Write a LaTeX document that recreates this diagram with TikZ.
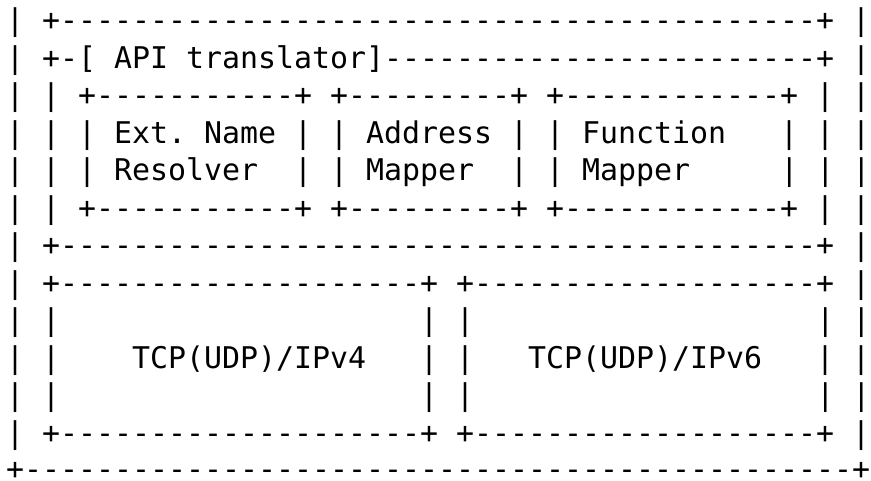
\documentclass[tikz,border=0pt]{standalone}
\usepackage{fontspec}
\newfontfamily\asciifont{DejaVu Sans Mono}

% runs of dashes and blanks, one column each
\newcommand\dashrun[1]{\foreach \k in {1,...,#1}{-}}
\newcommand\gaprun[1]{\foreach \k in {1,...,#1}{~}}

\begin{document}
\begin{tikzpicture}[x=1pt, y=1pt,
    asciirow/.style={anchor=base west, inner sep=0pt,
      font=\asciifont\fontsize{29.9}{37.5}\selectfont}]

  \useasboundingbox (0,0) rectangle (871,-480);

  % left edge of the first column
  \def\cx{6}

  % API translator block
  \node[asciirow] (row1)  at (\cx,-30.5)  {|~+\dashrun{42}+~|};
  \node[asciirow] (row2)  at (\cx,-68)    {|~+-[~API~translator]\dashrun{24}+~|};
  \node[asciirow] (row3)  at (\cx,-105.5) {|~|~+\dashrun{11}+~+\dashrun{9}+~+\dashrun{12}+~|~|};
  \node[asciirow] (row4)  at (\cx,-143)   {|~|~|~Ext.~Name~|~|~Address~|~|~Function\gaprun{3}|~|~|};
  \node[asciirow] (row5)  at (\cx,-180.5) {|~|~|~Resolver\gaprun{2}|~|~Mapper\gaprun{2}|~|~Mapper\gaprun{5}|~|~|};
  \node[asciirow] (row6)  at (\cx,-218)   {|~|~+\dashrun{11}+~+\dashrun{9}+~+\dashrun{12}+~|~|};
  \node[asciirow] (row7)  at (\cx,-255.5) {|~+\dashrun{42}+~|};

  % transport stacks
  \node[asciirow] (row8)  at (\cx,-293)   {|~+\dashrun{20}+~+\dashrun{19}+~|};
  \node[asciirow] (row9)  at (\cx,-330.5) {|~|\gaprun{20}|~|\gaprun{19}|~|};
  \node[asciirow] (row10) at (\cx,-368)   {|~|\gaprun{4}TCP(UDP)/IPv4\gaprun{3}|~|\gaprun{3}TCP(UDP)/IPv6\gaprun{3}|~|};
  \node[asciirow] (row11) at (\cx,-405.5) {|~|\gaprun{20}|~|\gaprun{19}|~|};
  \node[asciirow] (row12) at (\cx,-443)   {|~+\dashrun{20}+~+\dashrun{19}+~|};
  \node[asciirow] (row13) at (\cx,-479.5) {+\dashrun{46}+};

\end{tikzpicture}
\end{document}
